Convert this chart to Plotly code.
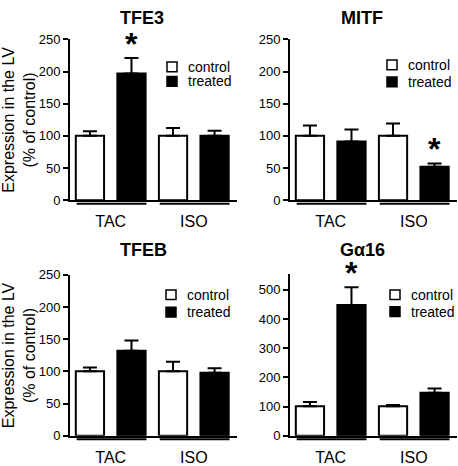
import plotly.graph_objects as go

W, H = 458, 466

categories = ["TAC", "ISO"]
series_names = ["control", "treated"]
panel_titles = ["TFE3", "MITF", "TFEB", "Gα16"]

tfe3_control = [100, 100]
tfe3_control_err = [7, 12]
tfe3_treated = [197, 100]
tfe3_treated_err = [24, 8]

mitf_control = [100, 100]
mitf_control_err = [16, 19]
mitf_treated = [91, 52]
mitf_treated_err = [19, 5]

tfeb_control = [100, 100]
tfeb_control_err = [6, 15]
tfeb_treated = [132, 98]
tfeb_treated_err = [16, 7]

ga16_control = [101, 101]
ga16_control_err = [15, 4]
ga16_treated = [448, 147]
ga16_treated_err = [61, 15]

# significance markers: (category, series) pairs
tfe3_sig = [("TAC", "treated")]
mitf_sig = [("ISO", "treated")]
tfeb_sig = []
ga16_sig = [("TAC", "treated")]

y_ticks_250 = [0, 50, 100, 150, 200, 250]
y_ticks_500 = [0, 100, 200, 300, 400, 500]

FONT = "Arial, Liberation Sans, sans-serif"


def px_x(x):
    return x / W


def px_y(y):
    return (H - y) / H


panels = [
    dict(title=panel_titles[0], ctrl=tfe3_control, ctrl_err=tfe3_control_err,
         trt=tfe3_treated, trt_err=tfe3_treated_err, sig=tfe3_sig,
         ticks=y_ticks_250, ymax=250, xd=(70, 237), yd=(33.5, 200),
         title_pos=(142, 11), leg=(167, 62, 77, 186), ylabel=True),
    dict(title=panel_titles[1], ctrl=mitf_control, ctrl_err=mitf_control_err,
         trt=mitf_treated, trt_err=mitf_treated_err, sig=mitf_sig,
         ticks=y_ticks_250, ymax=250, xd=(290, 457), yd=(33.5, 200),
         title_pos=(362, 11), leg=(387, 60, 77.5, 406), ylabel=False),
    dict(title=panel_titles[2], ctrl=tfeb_control, ctrl_err=tfeb_control_err,
         trt=tfeb_treated, trt_err=tfeb_treated_err, sig=tfeb_sig,
         ticks=y_ticks_250, ymax=250, xd=(70, 237), yd=(277.3, 444),
         title_pos=(143, 252), leg=(166, 298, 316, 185), ylabel=True),
    dict(title=panel_titles[3], ctrl=ga16_control, ctrl_err=ga16_control_err,
         trt=ga16_treated, trt_err=ga16_treated_err, sig=ga16_sig,
         ticks=y_ticks_500, ymax=556, xd=(290, 457), yd=(276, 444),
         title_pos=(362, 252), leg=(390, 298, 315.5, 409), ylabel=False),
]

fig = go.Figure()
shapes = []
annotations = []
BAR_W = 0.34
OFFS = {"control": -0.25, "treated": 0.25}

for i, p in enumerate(panels):
    n = i + 1
    xa = "x" if n == 1 else f"x{n}"
    ya = "y" if n == 1 else f"y{n}"
    for name, vals, errs, fill in [("control", p["ctrl"], p["ctrl_err"], "white"),
                                   ("treated", p["trt"], p["trt_err"], "black")]:
        fig.add_trace(go.Bar(
            x=categories, y=vals, name=name, showlegend=False,
            xaxis=xa, yaxis=ya,
            offset=OFFS[name] - BAR_W / 2, width=BAR_W,
            marker=dict(color=fill, line=dict(color="black", width=2)),
            error_y=dict(type="data", array=errs, arrayminus=[0] * len(errs),
                         symmetric=False, color="black", thickness=2, width=7),
        ))
    xkey = "xaxis" if n == 1 else f"xaxis{n}"
    ykey = "yaxis" if n == 1 else f"yaxis{n}"
    fig.update_layout({
        xkey: dict(domain=[px_x(p["xd"][0]), px_x(p["xd"][1])], anchor=ya,
                   type="category", range=[-0.49, 1.52], showline=True,
                   linewidth=2, linecolor="black", ticks="", showgrid=False,
                   zeroline=False, tickfont=dict(size=16, color="black", family=FONT),
                   ticklabelstandoff=6),
        ykey: dict(domain=[px_y(p["yd"][1]), px_y(p["yd"][0])], anchor=xa,
                   range=[0, p["ymax"]], tickvals=p["ticks"], ticks="outside",
                   ticklen=5, tickwidth=2, tickcolor="black", showline=True,
                   linewidth=2, linecolor="black", showgrid=False, zeroline=False,
                   tickfont=dict(size=13, color="black", family=FONT)),
    })
    # group underlines
    for c in range(len(categories)):
        shapes.append(dict(type="line", xref=xa, yref=f"{ya} domain",
                           x0=c - 0.41, x1=c + 0.43, y0=-0.022, y1=-0.022,
                           line=dict(color="black", width=2)))
    # panel title
    annotations.append(dict(text=f"<b>{p['title']}</b>", xref="paper", yref="paper",
                            x=px_x(p["title_pos"][0]), y=px_y(p["title_pos"][1]),
                            xanchor="center", yanchor="middle", showarrow=False,
                            font=dict(size=18, family=FONT, color="black")))
    # legend
    lx, cy, ty, tx = p["leg"]
    for name, yc, fill in [(series_names[0], cy, "white"), (series_names[1], ty, "black")]:
        shapes.append(dict(type="rect", xref="paper", yref="paper",
                           x0=px_x(lx), x1=px_x(lx + 10), y0=px_y(yc + 5), y1=px_y(yc - 5),
                           fillcolor=fill, line=dict(color="black", width=1.5)))
        annotations.append(dict(text=name, xref="paper", yref="paper",
                                x=px_x(tx), y=px_y(yc), xanchor="left", yanchor="middle",
                                showarrow=False,
                                font=dict(size=14, family=FONT, color="black")))
    # significance asterisks
    for cat, ser in p["sig"]:
        ci = categories.index(cat)
        vals = p["trt"] if ser == "treated" else p["ctrl"]
        errs = p["trt_err"] if ser == "treated" else p["ctrl_err"]
        annotations.append(dict(text="<b>*</b>", xref=xa, yref=ya,
                                x=ci + OFFS[ser], y=vals[ci] + errs[ci],
                                xanchor="center", yanchor="bottom", yshift=-6,
                                showarrow=False,
                                font=dict(size=32, family=FONT, color="black")))
    # y-axis title
    if p["ylabel"]:
        annotations.append(dict(text="Expression in the LV<br>(% of control)",
                                xref="paper", yref="paper",
                                x=px_x(19), y=px_y((p["yd"][0] + p["yd"][1]) / 2),
                                xanchor="center", yanchor="middle", textangle=-90,
                                showarrow=False,
                                font=dict(size=16, family=FONT, color="black")))

fig.update_layout(
    width=W, height=H, margin=dict(l=0, r=0, t=0, b=0),
    paper_bgcolor="white", plot_bgcolor="white", barmode="overlay",
    shapes=shapes, annotations=annotations, showlegend=False,
    font=dict(family=FONT, color="black"),
)

fig.write_html(
    "out.html",
    config={"displayModeBar": False},
    post_script="document.body.style.margin='0';document.body.style.padding='0';"
                "document.body.style.overflow='hidden';",
)
